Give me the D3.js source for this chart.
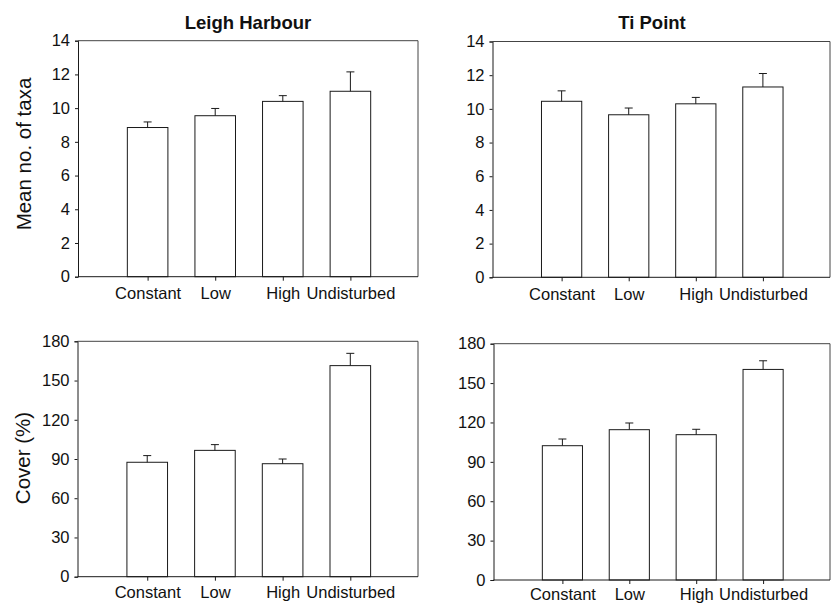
<!DOCTYPE html>
<html>
<head>
<meta charset="utf-8">
<script src="https://cdn.jsdelivr.net/npm/d3@7"></script>
<style>
  html, body { margin: 0; padding: 0; background: #fff; }
  svg { display: block; }
  text { font-family: "Liberation Sans", Arial, Helvetica, sans-serif; fill: #111; }
</style>
</head>
<body>
<svg id="chart" width="831" height="604"></svg>
<script>
// ---- data ----
const categories = ["Constant", "Low", "High", "Undisturbed"];
const siteNames = ["Leigh Harbour", "Ti Point"];

const taxaTicks = [0, 2, 4, 6, 8, 10, 12, 14];
const coverTicks = [0, 30, 60, 90, 120, 150, 180];

const leighTaxa   = [8.85, 9.55, 10.4, 11.0];
const leighTaxaSE = [0.33, 0.43, 0.34, 1.15];
const tiTaxa      = [10.45, 9.65, 10.3, 11.3];
const tiTaxaSE    = [0.62, 0.40, 0.38, 0.80];

const leighCover   = [87.5, 96.6, 86.4, 161.4];
const leighCoverSE = [5.1, 4.4, 3.6, 9.4];
const tiCover      = [102.3, 114.5, 110.7, 160.4];
const tiCoverSE    = [5.1, 5.1, 4.1, 6.6];

// ---- layout ----
const svg = d3.select("#chart");
const ink = "#1a1a1a";

const panels = [
  { title: siteNames[0], ylabel: "Mean no. of taxa", vals: leighTaxa, se: leighTaxaSE, ticks: taxaTicks,
    x0: 78, x1: 418, y0: 40.7, y1: 276.7, titleDx: 170, ylabX: 31, ylabY: 154, pad: 7 },
  { title: siteNames[1], ylabel: null, vals: tiTaxa, se: tiTaxaSE, ticks: taxaTicks,
    x0: 492.5, x1: 830, y0: 41.5, y1: 277.3, titleDx: 159.5, pad: 7 },
  { title: null, ylabel: "Cover (%)", vals: leighCover, se: leighCoverSE, ticks: coverTicks,
    x0: 77.5, x1: 418, y0: 341.3, y1: 576.7, ylabX: 30, ylabY: 458, pad: 6 },
  { title: null, ylabel: null, vals: tiCover, se: tiCoverSE, ticks: coverTicks,
    x0: 493.5, x1: 830, y0: 343.7, y1: 580, pad: 4 }
];

panels.forEach(p => {
  const g = svg.append("g");
  const x = d3.scaleLinear().domain([-1.03, 4.0]).range([p.x0, p.x1]);
  const y = d3.scaleLinear().domain([0, d3.max(p.ticks)]).range([p.y1, p.y0]);
  const bw = x(0.6) - x(0);

  // frame (top + right)
  g.append("path")
    .attr("d", `M${p.x0},${y(d3.max(p.ticks))}H${p.x1}V${p.y1}`)
    .attr("fill", "none").attr("stroke", "#444").attr("stroke-width", 1);

  // bars
  g.selectAll("rect.bar").data(p.vals).join("rect")
    .attr("class", "bar")
    .attr("x", (d, i) => x(i) - bw / 2)
    .attr("y", d => y(d))
    .attr("width", bw)
    .attr("height", d => y(0) - y(d))
    .attr("fill", "#fff").attr("stroke", ink).attr("stroke-width", 1);

  // error bars (upper only)
  p.vals.forEach((v, i) => {
    const cx = x(i);
    g.append("line").attr("x1", cx).attr("x2", cx)
      .attr("y1", y(v)).attr("y2", y(v + p.se[i]))
      .attr("stroke", ink).attr("stroke-width", 1);
    g.append("line").attr("x1", cx - 4).attr("x2", cx + 4)
      .attr("y1", y(v + p.se[i])).attr("y2", y(v + p.se[i]))
      .attr("stroke", ink).attr("stroke-width", 1);
  });

  // y axis
  const ya = g.append("g").attr("transform", `translate(${p.x0},0)`)
    .call(d3.axisLeft(y).tickValues(p.ticks).tickSize(3).tickPadding(5).tickFormat(d3.format("d")));
  ya.select(".domain").attr("stroke", ink);
  ya.selectAll(".tick line").attr("stroke", ink);
  ya.selectAll("text").attr("font-size", "16.5px").attr("fill", "#111")
    .attr("font-family", "'Liberation Sans', Arial, sans-serif");

  // x axis
  const xa = g.append("g").attr("transform", `translate(0,${p.y1})`)
    .call(d3.axisBottom(x).tickValues([0, 1, 2, 3]).tickSize(4).tickPadding(p.pad)
      .tickFormat(i => categories[i]));
  xa.select(".domain").attr("d", `M${p.x0},0H${p.x1}`).attr("stroke", ink);
  xa.selectAll(".tick line").attr("stroke", ink);
  xa.selectAll("text").attr("font-size", "16.5px").attr("fill", "#111")
    .attr("font-family", "'Liberation Sans', Arial, sans-serif");

  if (p.title) {
    g.append("text").attr("x", p.x0 + p.titleDx).attr("y", 29.3)
      .attr("text-anchor", "middle").attr("font-weight", "bold").attr("font-size", "18.5px")
      .text(p.title);
  }
  if (p.ylabel) {
    g.append("text").attr("transform", `translate(${p.ylabX},${p.ylabY}) rotate(-90)`)
      .attr("text-anchor", "middle").attr("font-size", "20.5px")
      .text(p.ylabel);
  }
});
</script>
</body>
</html>
